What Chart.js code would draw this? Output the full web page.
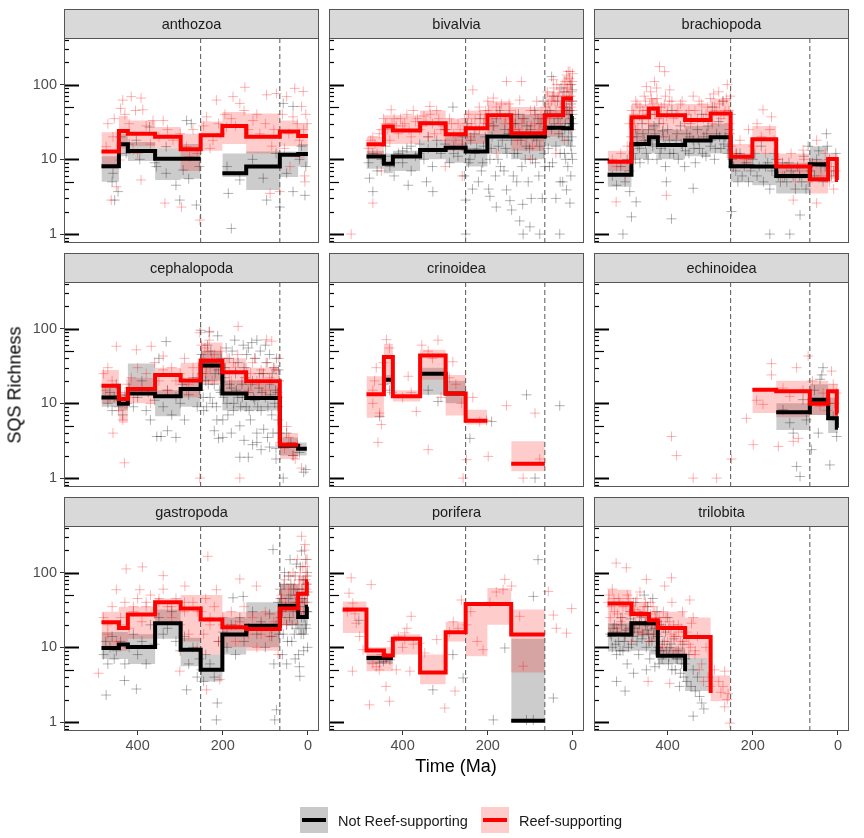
<!DOCTYPE html>
<html>
<head>
<meta charset="utf-8">
<script src="https://cdn.jsdelivr.net/npm/chart.js@4.4.0/dist/chart.umd.min.js"></script>
<style>
  body { margin: 0; background: #fff; width: 864px; height: 838px; position: relative; overflow: hidden;
         font-family: "Liberation Sans", Arial, sans-serif; }
  canvas { position: absolute; left: 0; top: 0; }
  .lbl { position: absolute; white-space: nowrap; z-index: 2; }
  .key { position: absolute; width: 28px; height: 26px; z-index: 2; }
  .key i { position: absolute; left: 2px; right: 2px; top: 11px; height: 4px; }
</style>
</head>
<body>
<div class="lbl" style="left:15px;top:385px;transform:translate(-50%,-50%) rotate(-90deg);font-size:18px;color:#000">SQS Richness</div>
<div class="lbl" style="left:456px;top:766px;transform:translate(-50%,-50%);font-size:18px;color:#000">Time (Ma)</div>
<div class="key" style="left:300px;top:807px;background:#c9c9c9"><i style="background:#000"></i></div>
<div class="lbl" style="left:338px;top:821px;transform:translateY(-50%);font-size:14.5px;color:#1a1a1a">Not Reef-supporting</div>
<div class="key" style="left:481px;top:807px;background:#ffcccc"><i style="background:#ff0000"></i></div>
<div class="lbl" style="left:519px;top:821px;transform:translateY(-50%);font-size:14.5px;color:#1a1a1a">Reef-supporting</div>

<script>
// time bins (Ma), oldest first
const binStart = [541, 485, 444, 423, 359, 299, 252, 201, 145, 66, 23, 2.6];
const binEnd   = [485, 444, 423, 359, 299, 252, 201, 145, 66, 23, 2.6, 0];
const boundaries = [252, 66];
const xTicks = [400, 200, 0];
const yTicks = [1, 10, 100];

// ---- anthozoa
const anthozoaReef   = [null, 12.7, 24, 22, 20, 13.6, 21, 28, 20, 23.5, 20.5, 20.5];
const anthozoaNot    = [null, 8.1, 15.9, 12.9, 10.2, 10.2, null, 6.5, 8.0, 11.5, 11.8, 11.8];
const anthozoaReefLo = [null, 7.5, 14, 15, 14, 7, 13, 16, 12, 15, 15, 15];
const anthozoaReefHi = [null, 23, 38, 33, 27, 22, 32, 43, 41, 33, 30, 30];
const anthozoaNotLo  = [null, 5, 11, 9.5, 5.3, 5.5, null, 5.8, 3.9, 5.8, 8, 8];
const anthozoaNotHi  = [null, 11, 22, 17, 14, 16, null, 12, 12.7, 12.7, 16, 16];
const anthozoaReefPts = [148,92, 215,62, 31,89, 11,81, 176,69, 160,56, 97,73, 74,76, 50,69, 435,62, 415,69, 392,66, 388,46,
  462,2.85, 297,2.3, 254,1.54, 450,4.3, 392,5.3, 336,2.6, 7,5, 66,3.7, 89,3.5, 42,8, 19,10.8, 364,33, 340,33, 317,18,
  285,14.8, 238,37, 223,18, 191,27, 129,33, 113,22, 35,37, 15,51, 458,20, 442,9.8, 411,13.3, 474,14.8, 278,10.9, 430,40,
  420,30, 405,45, 380,28, 350,20, 330,25, 270,25, 245,28, 210,30, 195,40, 180,35, 170,28, 150,45, 140,25, 120,40, 100,30,
  80,25, 60,40, 45,22, 25,30, 10,25, 5,40, 2,30, 470,30, 455,35, 440,48, 400,12, 370,16, 300,22, 260,12, 230,14, 205,22,
  85,15, 55,14, 20,18, 8,6];
const anthozoaNotPts = [180,1.19, 187,3.5, 285,33, 274,30, 403,18, 454,2.85, 446,3.7, 333,6.5, 301,2.85, 262,2.45, 97,2.85,
  35,3.7, 7,3.3, 50,6.5, 160,5.3, 105,5.6, 333,14.8, 356,8, 458,6.5, 427,12, 35,51, 58,56, 293,7.2, 66,2.3, 372,27, 460,5,
  440,20, 420,16, 395,10, 360,9, 310,4.5, 280,5.5, 255,8, 190,8, 130,10, 75,12, 20,10, 15,15, 5,8];

// ---- bivalvia
const bivalviaReef   = [null, 15.9, 27.4, 24.3, 30.4, 21.6, 26, 39, 22.3, 39, 65, 65];
const bivalviaNot    = [null, 10.9, 8.7, 10.9, 13.3, 14.3, 12.7, 20.2, 20.2, 26.5, 26, 38];
const bivalviaReefLo = [null, 11, 16, 16, 18, 13, 16, 22, 13, 20, 30, 30];
const bivalviaReefHi = [null, 20, 39, 39, 45, 35, 45, 60, 50, 80, 130, 130];
const bivalviaNotLo  = [null, 7.5, 6.5, 7, 10, 9, 8, 12, 10, 15, 15, 15];
const bivalviaNotHi  = [null, 13, 12, 13, 18, 22, 22, 35, 40, 45, 50, 50];
const bivalviaReefPts = [521,1.0, 470,2.6, 427,46, 336,51, 156,110, 121,110, 235,85, 15,134, 11,150, 46,116, 187,66, 125,62,
  480,14, 470,20, 460,12, 450,25, 440,30, 430,18, 420,35, 410,22, 400,28, 390,40, 380,20, 370,32, 360,25, 350,38, 340,20,
  330,30, 320,45, 310,25, 300,18, 290,35, 280,22, 270,30, 260,16, 250,28, 245,40, 240,20, 230,35, 220,50, 210,30, 205,45,
  200,60, 190,35, 180,50, 170,40, 160,30, 150,55, 140,25, 135,40, 130,18, 120,30, 110,22, 100,45, 95,15, 90,30, 85,60,
  80,25, 75,40, 70,20, 65,50, 60,80, 55,35, 50,60, 45,90, 40,45, 35,70, 30,30, 25,100, 20,55, 15,80, 10,40, 8,120, 5,70,
  3,100, 2,60, 1,140, 450,7, 300,8, 260,6, 180,12, 100,10, 40,12, 20,18, 5,25,
  475,18, 465,16, 455,22, 445,35, 435,25, 425,30, 415,28, 405,35, 395,30, 385,25, 375,45, 365,35, 355,28, 345,32, 335,40,
  325,22, 315,35, 305,28, 295,25, 285,30, 275,18, 265,25, 255,35, 248,22, 238,30, 228,25, 218,40, 208,35, 198,45, 188,28,
  178,40, 168,55, 158,35, 148,45, 138,30, 128,25, 118,35, 108,20, 98,28, 88,40, 78,30, 72,35, 64,45, 58,55, 52,40, 48,70,
  42,60, 38,100, 32,85, 28,50, 24,70, 19,110, 16,45, 13,90, 9,60, 7,150, 4,50, 2.5,80, 1.5,110, 0.8,45];
const bivalviaNotPts = [156,3.9, 144,2.1, 125,1.5, 101,1.25, 78,1.0, 117,1.0, 31,1.0, 180,2.3, 195,3.2, 252,2.85, 252,1.0,
  329,3.7, 470,3.7, 478,5.6, 387,4.5, 344,5, 282,50, 50,128, 15,3.9, 7,2.6, 480,9, 470,12, 460,7, 450,10, 440,15, 430,8,
  420,6, 410,12, 400,9, 390,14, 380,7, 370,11, 360,16, 350,10, 340,20, 330,8, 320,14, 310,12, 300,25, 290,9, 280,15,
  270,11, 260,20, 255,6, 250,14, 245,9, 240,18, 230,12, 220,25, 215,7, 210,15, 200,30, 195,10, 190,20, 180,35, 175,15,
  170,8, 160,25, 155,12, 150,40, 145,18, 140,6, 135,30, 130,12, 125,22, 120,8, 115,35, 110,15, 105,5, 100,25, 95,10,
  90,45, 85,18, 80,6, 75,30, 70,60, 68,12, 65,20, 60,40, 55,8, 50,25, 45,70, 40,15, 35,35, 30,5, 28,90, 25,20, 22,50,
  20,12, 18,30, 15,60, 12,8, 10,25, 8,45, 6,100, 5,15, 4,35, 3,20, 2,60, 1,10, 0.5,30,
  248,30, 242,10, 236,4, 232,22, 226,14, 222,5, 218,35, 212,9, 206,20, 198,4, 192,14, 186,28, 182,6, 176,10, 172,45,
  166,18, 162,7, 158,14, 152,22, 148,2.8, 142,30, 138,12, 132,5, 128,40, 122,18, 118,2.5, 112,10, 108,28, 102,14, 98,3,
  92,20, 88,9, 82,35, 78,15, 72,3, 66,8, 62,25, 58,14, 54,45, 48,9, 44,30, 40,3, 36,60, 33,22, 30,12, 26,40, 24,5, 21,80,
  19,25, 17,10, 14,45, 11,18, 9,70, 7,30, 5,6, 4,55, 3,12, 1.5,40, 1,85, 440,11, 420,9, 400,13, 380,15, 360,12, 340,14,
  320,18, 300,16, 280,12, 260,15];

// ---- brachiopoda
const brachiopodaReef   = [9.3, 36.5, 48, 39, 33.6, 41, 10.8, 18.5, 8, 5.4, 10.1, 5.3];
const brachiopodaNot    = [6.2, 16, 19.7, 15.5, 17.8, 19.7, 8.1, 8.0, 6, 8.6, null, null];
const brachiopodaReefLo = [7, 16, 20, 18, 18, 20, 7.5, 12, 5.5, 3.5, 5.5, 5.5];
const brachiopodaReefHi = [13, 55, 65, 55, 55, 65, 16, 28, 12, 10, 12, 12];
const brachiopodaNotLo  = [4.3, 10, 12, 10, 11, 12, 5, 4.5, 3.5, 5, null, null];
const brachiopodaNotHi  = [10, 25, 30, 25, 28, 30, 12, 12, 9, 15, null, null];
const brachiopodaReefPts = [419,174, 407,149, 431,110, 450,94, 395,85, 521,2.7, 403,3.3, 50,2.6, 105,2.85, 156,37, 176,46,
  82,13.3, 50,18, 530,10, 520,8, 510,12, 500,6, 495,15, 490,30, 480,40, 475,60, 470,25, 465,50, 460,35, 455,70, 450,45,
  445,30, 440,80, 435,55, 430,40, 425,65, 420,35, 415,50, 410,30, 405,70, 400,45, 390,60, 380,40, 370,55, 360,30, 350,45,
  340,70, 330,35, 320,55, 310,40, 300,65, 295,30, 290,50, 280,80, 275,35, 270,60, 265,45, 260,100, 255,30, 250,15, 245,8,
  240,12, 230,18, 220,10, 210,25, 200,15, 190,30, 180,20, 170,12, 160,25, 150,18, 140,10, 130,6, 120,8, 110,12, 100,5,
  90,7, 80,10, 70,5, 60,8, 40,6, 30,12, 20,5, 15,8, 10,4, 5,7,
  484,45, 478,30, 472,55, 466,38, 458,45, 452,60, 446,40, 438,65, 432,45, 426,90, 422,50, 416,40, 408,55, 402,38, 396,60,
  386,35, 376,45, 366,60, 356,40, 346,30, 336,45, 326,60, 316,35, 306,50, 298,40, 292,75, 286,45, 278,55, 268,40, 262,65,
  256,45, 253,70];
const brachiopodaNotPts = [505,1.0, 391,1.6, 485,1.7, 160,1.0, 113,1.0, 27,22, 89,1.8, 250,2.0, 403,5, 340,4.1, 489,3.7,
  474,2.7, 530,6, 520,4.5, 510,8, 500,5, 495,10, 490,7, 485,20, 480,12, 475,25, 470,15, 465,9, 460,30, 455,18, 450,12,
  445,25, 440,40, 435,15, 430,22, 425,10, 420,30, 415,14, 410,20, 405,8, 400,25, 395,12, 390,45, 380,18, 375,10, 370,28,
  365,15, 360,8, 355,22, 350,12, 345,35, 340,18, 335,9, 330,25, 325,14, 320,40, 315,20, 310,11, 305,28, 300,15, 295,50,
  290,10, 285,22, 280,32, 275,14, 270,60, 265,20, 260,12, 255,25, 252,40, 248,10, 240,7, 235,5, 230,12, 220,8, 210,5,
  200,10, 190,6, 180,15, 170,8, 160,4, 150,12, 140,6, 130,9, 120,5, 110,7, 100,4, 90,6, 80,11, 75,4, 70,15, 60,9, 55,6,
  45,13, 40,8, 35,5, 20,10, 10,7, 5,12,
  482,15, 476,10, 472,20, 466,14, 458,22, 452,16, 446,10, 438,18, 432,28, 426,16, 418,12, 412,24, 406,15, 396,18, 386,12,
  378,22, 368,16, 358,13, 348,20, 338,14, 328,18, 318,12, 308,22, 298,18, 288,14, 278,20, 268,16, 258,15, 254,22, 246,8,
  238,12, 225,6, 215,9, 205,7, 195,12, 185,8, 175,5, 165,9, 155,7, 145,10, 135,5, 125,6, 115,9, 105,6, 95,8, 85,5, 65,7,
  50,10, 30,8, 25,15, 15,6];

// ---- cephalopoda
const cephalopodaReef   = [null, 17.2, 11.4, 15.5, 24, 20.2, 37, 26, 19.8, 2.8, null, null];
const cephalopodaNot    = [null, 12, 9.9, 13.5, 12.4, 15.5, 32, 13.5, 11.8, 2.7, 2.47, null];
const cephalopodaReefLo = [null, 10, 5.5, 10, 12, 12, 18, 13, 12, 1.8, null, null];
const cephalopodaReefHi = [null, 28, 14, 22, 30, 35, 65, 40, 30, 4, null, null];
const cephalopodaNotLo  = [null, 9, 8, 16, 6.7, 9, 20, 8, 8, 2, 2, null];
const cephalopodaNotHi  = [null, 17, 13, 34, 15, 20, 50, 20, 18, 3.5, 3, null];
const cephalopodaReefPts = [450,58, 403,52, 368,58, 340,43, 285,15, 254,88, 231,92, 164,107, 97,71, 85,68, 160,1.0, 254,1.0,
  431,1.6, 458,4.0, 15,1.36, 50,4.9, 480,25, 475,15, 470,30, 465,12, 460,20, 445,8, 440,14, 435,6, 430,10, 425,18, 415,22,
  410,12, 400,30, 390,15, 380,25, 370,10, 360,35, 350,20, 340,28, 330,15, 320,30, 310,20, 300,25, 290,40, 280,18, 270,30,
  260,22, 250,60, 245,40, 240,25, 235,50, 230,30, 225,20, 220,45, 210,35, 200,25, 190,40, 180,20, 170,30, 150,25, 140,15,
  130,35, 120,20, 110,28, 100,15, 90,22, 80,30, 70,12, 65,3, 55,2.5, 45,3.5, 35,2, 25,2.8, 30,1.8,
  248,35, 242,55, 238,30, 232,70, 226,40, 215,30, 205,50, 195,30, 185,25, 175,35, 165,45, 155,20, 145,30, 135,25, 125,40,
  115,18, 105,25, 95,35, 85,20, 75,28, 68,40];
const cephalopodaNotPts = [470,10, 465,14, 460,8, 455,12, 450,18, 445,9, 440,11, 435,7, 430,13, 425,10, 420,16, 410,9,
  400,12, 390,20, 380,8, 375,14, 370,6, 360,11, 355,3.6, 345,3.6, 340,9, 330,15, 320,7, 310,12, 300,10, 295,18, 290,6,
  280,13, 270,22, 260,9, 255,15, 252,95, 250,45, 248,25, 245,8, 240,20, 236,60, 230,12, 225,35, 220,18, 215,9, 210,28,
  205,14, 200,6, 195,22, 190,10, 185,40, 180,16, 175,8, 170,25, 165,12, 160,5, 155,18, 150,30, 145,9, 140,14, 135,6,
  130,20, 125,11, 120,4, 115,16, 110,8, 105,25, 100,12, 95,3.5, 90,18, 85,7, 80,30, 78,10, 75,2.5, 72,14, 70,6, 68,20,
  100,60, 120,70, 140,55, 90,45, 160,1.9, 140,1.9, 120,3, 50,4, 40,3, 35,2, 20,2.2, 10,1.2, 5,1.3, 58,1.0, 75,1.8,
  210,3.4, 220,4.3, 330,4.3, 310,3.5, 350,40, 333,67,
  250,20, 246,12, 242,35, 238,9, 234,18, 228,50, 224,10, 218,25, 214,6, 208,15, 204,40, 198,12, 194,30, 188,7, 184,18,
  178,50, 174,10, 168,15, 164,35, 158,9, 154,12, 148,22, 144,45, 138,8, 134,18, 128,12, 124,40, 118,9, 114,25, 108,14,
  104,4.5, 98,35, 94,9, 88,13, 84,25, 82,4, 76,15, 74,40, 70,9, 69,28, 67,4, 112,50, 132,65, 152,60, 172,70, 192,55,
  212,80, 232,90, 200,3.5, 180,4, 150,3.2, 130,2.8, 110,2.4, 90,2.6];

// ---- crinoidea
const crinoideaReef   = [null, 13.2, 41.6, 12.4, 43.5, 13.5, 5.85, null, 1.56, null, null, null];
const crinoideaNot    = [null, null, 20.7, null, 24.8, 13.5, null, null, null, null, null, null];
const crinoideaReefLo = [null, 6.4, 20.7, 10.6, 20.7, 6.9, 5.2, null, 1.23, null, null, null];
const crinoideaReefHi = [null, 23, 62, 15, 52, 24, 8.2, null, 3.1, null, null, null];
const crinoideaNotLo  = [null, null, 18, null, 13, 10, null, null, null, null, null, null];
const crinoideaNotHi  = [null, null, 24, null, 30, 20, null, null, null, null, null, null];
const crinoideaReefPts = [438,71, 431,55, 317,70, 340,50, 282,36, 387,23, 368,7.8, 462,30, 454,7.4, 450,5.2, 470,10,
  458,3.0, 340,2.4, 235,12, 203,5.9, 156,9.3, 89,7.4, 199,1.95, 250,1.76, 258,1.0, 117,1.0, 78,1.8, 219,5.7, 470,15,
  466,20, 445,35, 425,14, 400,12, 380,14, 355,60, 330,40, 310,12, 290,22, 275,18, 262,10];
const crinoideaNotPts = [191,5.7, 242,3.4, 317,10.6, 340,15, 454,6.7, 109,13, 31,9.3, 89,1.0, 431,15, 445,18];

// ---- echinoidea
const echinoideaReef   = [null, null, null, null, null, null, null, 15.2, 14.5, 9.9, 14.5, 7.3];
const echinoideaNot    = [null, null, null, null, null, null, null, null, 7.6, 11.2, 6.3, 4.7];
const echinoideaReefLo = [null, null, null, null, null, null, null, 7.4, 6.5, 7, 6, 6];
const echinoideaReefHi = [null, null, null, null, null, null, null, 16, 20, 20, 18, 18];
const echinoideaNotLo  = [null, null, null, null, null, null, null, null, 4.4, 7, 4, 4];
const echinoideaNotHi  = [null, null, null, null, null, null, null, null, 10, 18, 12, 12];
const echinoideaReefPts = [391,3.6, 379,2.0, 340,1.0, 285,1.0, 250,1.8, 199,2.8, 215,6.3, 156,34, 156,24, 97,30, 70,43,
  15,27, 11,18, 105,3.1, 140,2.65, 93,3.4, 191,11, 176,9.7, 129,16, 113,12.4, 35,13.7, 3,13.7, 42,9.1, 82,15, 60,20,
  25,8, 8,10];
const echinoideaNotPts = [35,30, 38,24, 42,21, 97,1.43, 89,1.05, 19,1.5, 62,2.4, 46,4.0, 3,3.6, 113,5.5, 105,4.0, 129,8.2,
  74,6.0, 11,6.7, 82,11.2, 55,15, 20,10];

// ---- gastropoda
const gastropodaReef   = [null, 21.6, 18.2, 27.4, 40, 33, 23.5, 18.5, 17.6, 33, 52, 76];
const gastropodaNot    = [null, 9.8, 10.9, 10.1, 21, 9.3, 5.0, 14.8, 19.5, 36, 25.5, 35];
const gastropodaReefLo = [null, 10, 9, 13, 20, 12, 8, 10, 9, 20, 25, 40];
const gastropodaReefHi = [null, 30, 35, 35, 45, 50, 50, 30, 30, 70, 90, 130];
const gastropodaNotLo  = [null, 7, 7, 6, 13, 5.6, 3.5, 8, 10, 20, 15, 20];
const gastropodaNotHi  = [null, 16, 16, 15, 32, 13.4, 8, 25, 40, 70, 45, 50];
const gastropodaReefPts = [427,112, 389,119, 340,91, 235,165, 160,82, 121,66, 15,306, 7,237, 492,4.5, 301,4.8, 238,2.7,
  207,3.7, 450,59, 395,59, 215,59, 289,66, 480,25, 470,15, 460,35, 450,12, 440,20, 430,40, 420,18, 410,30, 400,45, 390,22,
  380,35, 370,50, 360,28, 350,40, 340,60, 330,35, 320,25, 310,45, 300,20, 290,30, 280,15, 270,40, 260,10, 250,30, 245,15,
  240,45, 230,20, 220,35, 210,12, 200,25, 190,18, 180,30, 170,12, 160,22, 150,35, 140,15, 130,25, 120,10, 110,20, 100,30,
  90,14, 80,22, 70,8, 65,45, 60,30, 55,80, 50,20, 45,60, 40,35, 35,100, 30,50, 25,150, 22,40, 20,80, 15,60, 12,120, 10,30,
  8,200, 5,90, 3,60, 2,150, 1,40,
  62,50, 52,40, 42,90, 32,70, 27,40, 18,100, 12,45, 6,120, 4,70, 1.5,90, 470,20, 440,25, 410,35, 380,40, 350,45, 320,35,
  290,40, 260,30, 230,25, 200,20, 170,20, 140,18, 110,15, 85,18];
const gastropodaNotPts = [403,2.77, 474,2.3, 431,3.6, 215,1.07, 213,1.8, 285,2.7, 74,1.46, 78,1.07, 82,203, 15,194, 42,149,
  19,4.1, 152,48, 176,46, 480,8, 475,12, 470,6, 465,10, 460,14, 455,7, 450,9, 440,12, 430,6, 420,10, 410,15, 400,8, 390,12,
  380,6, 370,20, 360,11, 350,25, 340,15, 330,18, 320,30, 310,12, 300,9, 290,14, 280,6, 270,10, 260,4, 255,7, 250,5,
  245,3.5, 240,8, 230,6, 220,4, 210,12, 200,16, 190,10, 180,20, 170,8, 160,25, 150,12, 140,18, 130,30, 120,15, 110,22,
  100,10, 90,28, 85,14, 80,6, 75,20, 70,40, 68,15, 65,60, 60,30, 55,100, 50,20, 45,45, 40,70, 38,12, 35,30, 30,90, 28,18,
  25,50, 22,8, 20,35, 18,120, 15,25, 12,60, 10,15, 8,40, 6,80, 5,20, 3,30, 2,100, 1,10,
  64,25, 62,45, 58,15, 56,70, 52,35, 48,12, 46,90, 43,25, 40,50, 37,20, 34,60, 32,15, 29,40, 27,130, 24,20, 21,60, 19,30,
  16,15, 14,45, 11,80, 9,25, 7,50, 5,150, 4,18, 3,70, 1.5,30, 0.8,55, 60,8, 50,6, 30,7, 20,5.5, 10,9];

// ---- porifera
const poriferaReef   = [32, 9.1, 7.8, 13, 4.6, 15.9, 38, 38, 14.8, null, null, null];
const poriferaNot    = [null, 7.2, 7.2, null, null, null, null, null, 1.04, null, null, null];
const poriferaReefLo = [15.5, 4.8, 4.8, 8, 3.2, 12, 7.6, 20, 4.6, null, null, null];
const poriferaReefHi = [41, 10, 10, 15, 8, 22, 37, 62, 32, null, null, null];
const poriferaNotLo  = [null, 6, 6, null, null, null, null, null, 1.0, null, null, null];
const poriferaNotHi  = [null, 8, 8, null, null, null, null, null, 13, null, null, null];
const poriferaReefPts = [521,85, 526,53, 474,69, 517,39, 509,21, 518,4.8, 478,1.7, 431,1.9, 439,3.0, 380,26, 395,15.6,
  262,43, 270,18, 211,9.3, 160,81, 164,59, 144,66, 117,5.6, 125,26, 58,56, 46,27, 39,18, 15,15.5, 3,33, 301,1.54, 277,2.6,
  320,12.7, 348,8.4, 383,4.8, 415,5.0, 462,5.5, 450,8, 501,14, 493,9.3, 360,11.4, 395,12.6, 281,22, 530,30, 512,28, 470,6,
  455,5, 440,7, 425,12, 410,14, 400,10, 390,18, 375,11, 290,16, 250,20, 240,30, 225,12, 195,40, 180,55];
const poriferaNotPts = [503,23, 438,7.2, 329,2.7, 282,8, 258,3.9, 187,1.07, 160,9.8, 93,48, 82,149, 109,1.07, 93,1.07,
  46,2.1, 454,6.2, 445,6.5, 430,6.8];

// ---- trilobita
const trilobitaReef   = [38.5, 28, 23, 18.2, 13.8, 2.45, null, null, null, null, null, null];
const trilobitaNot    = [14.8, 21, 21, 7.7, 4.77, null, null, null, null, null, null, null];
const trilobitaReefLo = [14, 14, 12, 8, 7.2, 1.9, null, null, null, null, null, null];
const trilobitaReefHi = [59, 40, 30, 30, 25, 4.2, null, null, null, null, null, null];
const trilobitaNotLo  = [8.8, 9, 8, 6, 2.6, null, null, null, null, null, null, null];
const trilobitaNotHi  = [21, 22, 20, 10, 7.2, null, null, null, null, null, null, null];
const trilobitaReefPts = [521,134, 497,116, 391,85, 407,66, 450,81, 266,4.8, 258,2.4, 254,0.97, 266,1.6, 446,3.5, 395,3.3,
  348,43, 344,21, 540,40, 535,25, 530,60, 525,30, 520,18, 515,45, 510,22, 505,35, 500,15, 495,50, 490,28, 485,12, 480,40,
  475,20, 470,30, 465,55, 460,16, 455,35, 450,25, 445,12, 440,40, 435,20, 430,30, 425,15, 420,25, 415,10, 410,30, 405,18,
  400,12, 395,22, 390,40, 385,14, 380,9, 375,20, 370,12, 365,30, 360,8, 355,16, 350,11, 340,25, 335,9, 330,14, 320,6,
  310,10, 305,4, 300,3, 290,5, 280,3.5, 275,2.5, 270,3, 260,2,
  538,50, 532,35, 526,45, 518,28, 512,40, 506,25, 498,35, 492,45, 486,30, 478,32, 472,45, 466,25, 458,30, 452,40, 446,22,
  440,28, 434,35, 428,25, 422,20, 416,22, 410,18, 404,25, 398,18, 392,15, 386,20, 380,14, 374,16, 368,18, 362,12, 356,14,
  346,10, 336,8, 326,5, 316,3.5];
const trilobitaNotPts = [535,15, 530,10, 525,20, 520,8, 515,12, 510,25, 505,9, 500,14, 495,6, 490,18, 488,30, 485,11,
  480,22, 475,40, 470,16, 468,8, 465,28, 460,13, 455,50, 452,20, 450,10, 447,35, 445,15, 442,7, 440,24, 437,12, 435,45,
  430,18, 428,9, 425,30, 422,14, 420,6, 415,20, 412,11, 410,8, 405,16, 400,25, 398,6, 395,10, 390,5, 385,13, 380,7,
  375,9, 370,4.5, 365,11, 360,6, 355,3.5, 350,8, 345,3, 340,5, 335,2.6, 330,4, 325,2.2, 320,1.8, 315,1.5, 340,1.2,
  520,3.5, 500,2.6, 480,4.5, 450,5, 430,5.5,
  532,14, 528,18, 522,11, 518,16, 512,9, 508,20, 502,12, 498,17, 492,10, 487,24, 482,14, 478,18, 472,12, 466,20, 462,26,
  458,15, 453,22, 448,17, 443,12, 438,20, 433,15, 427,22, 423,10, 418,9, 413,7, 408,12, 403,9, 397,7.5, 392,11, 387,8,
  382,5, 377,7, 372,3, 367,6, 362,4, 358,7];

// lines that stop with a bare vertical drop (no last horizontal)
const openEndTaxa = ['trilobita'];

const panels = [
  { name: 'anthozoa', reef: anthozoaReef, not: anthozoaNot, reefLo: anthozoaReefLo, reefHi: anthozoaReefHi, notLo: anthozoaNotLo, notHi: anthozoaNotHi, reefPts: anthozoaReefPts, notPts: anthozoaNotPts },
  { name: 'bivalvia', reef: bivalviaReef, not: bivalviaNot, reefLo: bivalviaReefLo, reefHi: bivalviaReefHi, notLo: bivalviaNotLo, notHi: bivalviaNotHi, reefPts: bivalviaReefPts, notPts: bivalviaNotPts },
  { name: 'brachiopoda', reef: brachiopodaReef, not: brachiopodaNot, reefLo: brachiopodaReefLo, reefHi: brachiopodaReefHi, notLo: brachiopodaNotLo, notHi: brachiopodaNotHi, reefPts: brachiopodaReefPts, notPts: brachiopodaNotPts },
  { name: 'cephalopoda', reef: cephalopodaReef, not: cephalopodaNot, reefLo: cephalopodaReefLo, reefHi: cephalopodaReefHi, notLo: cephalopodaNotLo, notHi: cephalopodaNotHi, reefPts: cephalopodaReefPts, notPts: cephalopodaNotPts },
  { name: 'crinoidea', reef: crinoideaReef, not: crinoideaNot, reefLo: crinoideaReefLo, reefHi: crinoideaReefHi, notLo: crinoideaNotLo, notHi: crinoideaNotHi, reefPts: crinoideaReefPts, notPts: crinoideaNotPts },
  { name: 'echinoidea', reef: echinoideaReef, not: echinoideaNot, reefLo: echinoideaReefLo, reefHi: echinoideaReefHi, notLo: echinoideaNotLo, notHi: echinoideaNotHi, reefPts: echinoideaReefPts, notPts: echinoideaNotPts },
  { name: 'gastropoda', reef: gastropodaReef, not: gastropodaNot, reefLo: gastropodaReefLo, reefHi: gastropodaReefHi, notLo: gastropodaNotLo, notHi: gastropodaNotHi, reefPts: gastropodaReefPts, notPts: gastropodaNotPts },
  { name: 'porifera', reef: poriferaReef, not: poriferaNot, reefLo: poriferaReefLo, reefHi: poriferaReefHi, notLo: poriferaNotLo, notHi: poriferaNotHi, reefPts: poriferaReefPts, notPts: poriferaNotPts },
  { name: 'trilobita', reef: trilobitaReef, not: trilobitaNot, reefLo: trilobitaReefLo, reefHi: trilobitaReefHi, notLo: trilobitaNotLo, notHi: trilobitaNotHi, reefPts: trilobitaReefPts, notPts: trilobitaNotPts }
];

/* -------------------------------------------------------------------------- */
/* layout                                                                      */
/* -------------------------------------------------------------------------- */
const W = 864, H = 838;
const colLeft = [64, 329, 594];
const stripTop = [9, 253, 497];
const PANEL_W = 255, PANEL_H = 205, STRIP_H = 29;
const Y_AXIS_W = 40, X_AXIS_H = 24;
const X_MIN = -26, X_MAX = 573;
const Y_MIN = 0.76, Y_MAX = 420;
const FONT = '"Liberation Sans", Arial, sans-serif';

// geom_step style: value held across each bin, vertical jump between bins
function stepData(vals, openEnd) {
  const pts = [];
  let last = -1;
  vals.forEach((v, i) => { if (v != null) last = i; });
  for (let i = 0; i < vals.length; i++) {
    const v = vals[i];
    if (v == null) {
      if (pts.length && pts[pts.length - 1].y !== null) pts.push({ x: binStart[i], y: null });
      continue;
    }
    pts.push({ x: binStart[i], y: v });
    const next = vals[i + 1];
    if (next == null && !(openEnd && i === last)) pts.push({ x: binEnd[i], y: v });
  }
  return pts;
}

// ribbon edge: flat over every bin
function ribbonData(vals) {
  const pts = [];
  for (let i = 0; i < vals.length; i++) {
    const v = vals[i];
    if (v == null) {
      if (pts.length && pts[pts.length - 1].y !== null) pts.push({ x: binStart[i], y: null });
      continue;
    }
    pts.push({ x: binStart[i], y: v }, { x: binEnd[i], y: v });
  }
  return pts;
}

function pairs(flat) {
  const out = [];
  for (let i = 0; i < flat.length; i += 2) out.push({ x: flat[i], y: flat[i + 1] });
  return out;
}

const facetDecor = {
  id: 'facetDecor',
  afterDatasetsDraw(chart, args, opts) {
    const { ctx, chartArea: a, scales: { y } } = chart;
    ctx.save();
    // log ticks along the left edge
    ctx.strokeStyle = '#000';
    [0.1, 1, 10, 100].forEach(dec => {
      for (let k = 1; k <= 9; k++) {
        const v = k * dec;
        if (v < Y_MIN || v > Y_MAX) continue;
        const py = Math.round(y.getPixelForValue(v)) + 0.5;
        const len = k === 1 ? 15 : (k === 5 ? 10 : 5);
        ctx.lineWidth = k === 1 ? 2 : 1.2;
        ctx.beginPath();
        ctx.moveTo(a.left, py);
        ctx.lineTo(a.left + len, py);
        ctx.stroke();
      }
    });
    // panel border
    ctx.strokeStyle = '#555';
    ctx.lineWidth = 1;
    ctx.strokeRect(a.left + 0.5, a.top + 0.5, a.width - 1, a.height - 1);
    // strip
    ctx.fillStyle = '#d9d9d9';
    ctx.fillRect(a.left, a.top - STRIP_H, a.width, STRIP_H);
    ctx.strokeRect(a.left + 0.5, a.top - STRIP_H + 0.5, a.width - 1, STRIP_H);
    ctx.fillStyle = '#1a1a1a';
    ctx.font = '14.5px ' + FONT;
    ctx.textAlign = 'center';
    ctx.textBaseline = 'middle';
    ctx.fillText(opts.label, (a.left + a.right) / 2, a.top - STRIP_H / 2 + 1);
    ctx.restore();
  }
};

function makePanel(p, idx) {
  const col = idx % 3, row = Math.floor(idx / 3);
  const left = colLeft[col], top = stripTop[row] + STRIP_H;
  const right = left + PANEL_W, bottom = top + PANEL_H;
  const showY = col === 0, showX = row === 2;
  const openEnd = openEndTaxa.includes(p.name);

  const canvas = document.createElement('canvas');
  canvas.width = W; canvas.height = H;
  document.body.appendChild(canvas);

  const ribbon = (vals, color, fill, order) => ({
    data: ribbonData(vals), borderColor: 'transparent', borderWidth: 0, backgroundColor: color,
    pointRadius: 0, fill: fill, spanGaps: false, order: order
  });
  const vline = (x) => ({
    data: [{ x: x, y: Y_MIN }, { x: x, y: Y_MAX }], borderColor: '#555', borderWidth: 1,
    borderDash: [5, 3], pointRadius: 0, fill: false, order: 3
  });
  const step = (vals, color, order) => ({
    data: stepData(vals, openEnd), borderColor: color, borderWidth: 4, stepped: 'before', pointRadius: 0,
    fill: false, spanGaps: false, borderJoinStyle: 'miter', order: order
  });

  const datasets = [
    ribbon(p.notLo, 'transparent', false, 10),
    ribbon(p.notHi, 'rgba(0,0,0,0.2)', '-1', 9),
    ribbon(p.reefLo, 'transparent', false, 8),
    ribbon(p.reefHi, 'rgba(255,0,0,0.2)', '-1', 7),
    { data: pairs(p.notPts), showLine: false, pointStyle: 'cross', pointRadius: 5, pointBorderWidth: 1,
      pointBorderColor: 'rgba(0,0,0,0.3)', order: 6 },
    { data: pairs(p.reefPts), showLine: false, pointStyle: 'cross', pointRadius: 5, pointBorderWidth: 1,
      pointBorderColor: 'rgba(255,0,0,0.3)', order: 5 },
    ...boundaries.map(vline),
    step(p.not, '#000', 2),
    step(p.reef, '#ff0000', 1)
  ];

  new Chart(canvas, {
    type: 'line',
    data: { datasets: datasets },
    options: {
      responsive: false,
      animation: false,
      devicePixelRatio: 1,
      events: [],
      layout: {
        padding: {
          left: showY ? left - Y_AXIS_W : left,
          top: top,
          right: W - right,
          bottom: showX ? H - bottom - X_AXIS_H : H - bottom
        }
      },
      scales: {
        x: {
          type: 'linear', reverse: true, min: X_MIN, max: X_MAX, display: showX,
          afterFit: s => { if (showX) s.height = X_AXIS_H; },
          afterBuildTicks: s => { s.ticks = xTicks.map(v => ({ value: v })); },
          grid: { drawOnChartArea: false, tickLength: 4, color: '#333' },
          border: { display: false },
          ticks: { color: '#4d4d4d', font: { size: 14.5, family: FONT }, padding: 2, maxRotation: 0, autoSkip: false }
        },
        y: {
          type: 'logarithmic', min: Y_MIN, max: Y_MAX, display: showY,
          afterFit: s => { if (showY) s.width = Y_AXIS_W; },
          afterBuildTicks: s => { s.ticks = yTicks.map(v => ({ value: v })); },
          grid: { drawOnChartArea: false, tickLength: 4, color: '#333' },
          border: { display: false },
          ticks: { color: '#4d4d4d', font: { size: 14.5, family: FONT }, padding: 3, autoSkip: false,
                   callback: v => String(v) }
        }
      },
      plugins: {
        legend: { display: false },
        tooltip: { enabled: false },
        facetDecor: { label: p.name }
      }
    },
    plugins: [facetDecor]
  });
}

panels.forEach(makePanel);
</script>
</body>
</html>
